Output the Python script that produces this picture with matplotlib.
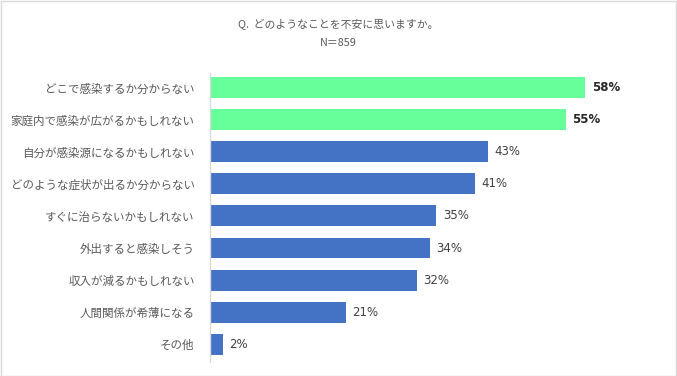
import matplotlib.pyplot as plt
from matplotlib.patches import Rectangle

plt.rcParams['font.family'] = ['Noto Sans CJK JP', 'DejaVu Sans']

# Data
categories = [
    "どこで感染するか分からない",
    "家庭内で感染が広がるかもしれない",
    "自分が感染源になるかもしれない",
    "どのような症状が出るか分からない",
    "すぐに治らないかもしれない",
    "外出すると感染しそう",
    "収入が減るかもしれない",
    "人間関係が希薄になる",
    "その他",
]
values = [58, 55, 43, 41, 35, 34, 32, 21, 2]
highlight = [True, True, False, False, False, False, False, False, False]

green = "#66FF99"
blue = "#4472C4"
colors = [green if h else blue for h in highlight]

W, H = 677, 376
fig = plt.figure(figsize=(W / 100, H / 100), dpi=100)

# axes placed in pixel coordinates
left, right, top, bottom = 210, 660, 73, 362
ax = fig.add_axes([left / W, 1 - bottom / H, (right - left) / W, (bottom - top) / H])

y = list(range(len(categories)))
ax.barh(y, values, height=0.65, color=colors)
ax.set_ylim(len(categories) - 0.45, -0.45)
ax.set_xlim(0, (right - left) / 6.47)

ax.set_yticks(y)
ax.set_yticklabels(categories, fontsize=8.3, color="#595959")
ax.tick_params(axis="y", length=0, pad=11)
ax.set_xticks([])

for s in ["top", "right", "bottom"]:
    ax.spines[s].set_visible(False)
ax.spines["left"].set_color("#D9D9D9")
ax.spines["left"].set_linewidth(1)

# value labels
for i, (v, h) in enumerate(zip(values, highlight)):
    ax.text(v + 1.0, i, f"{v}%", va="center", ha="left", fontsize=8.5,
            color="#262626" if h else "#404040",
            fontweight="bold" if h else "normal", family=["DejaVu Sans"])

# title
fig.text(0.5, 1 - 25 / H, "Q.  どのようなことを不安に思いますか。", ha="center",
         va="center", fontsize=7.8, color="#595959")
fig.text(0.5, 1 - 43 / H, "N＝859", ha="center", va="center",
         fontsize=7.8, color="#595959")

# light border around the chart
fig.patches.append(Rectangle((0.5 / W, 0.5 / H), 1 - 1.5 / W, 1 - 1.5 / H,
                             transform=fig.transFigure, fill=False,
                             edgecolor="#D9D9D9", linewidth=1))

fig.savefig("out.png", dpi=100)
